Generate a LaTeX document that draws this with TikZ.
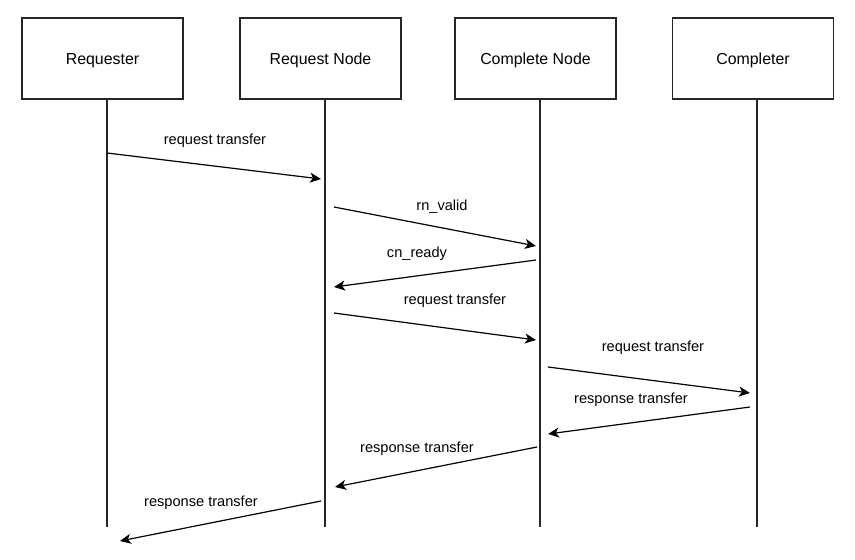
\documentclass[tikz,border=0pt]{standalone}
\usepackage{fontspec}
\setmainfont{Liberation Sans}
\usetikzlibrary{arrows.meta}
\begin{document}
\begin{tikzpicture}[x=1pt,y=-1pt,
  actor/.style={draw=black!85,line width=1.2pt,minimum width=161pt,minimum height=81pt,inner sep=0pt,text height=11.4pt,text depth=0pt,font=\fontsize{15.9}{18}\selectfont},
  life/.style={draw=black!85,line width=1.2pt},
  msg/.style={draw=black,line width=1.2pt,-{Stealth[length=11pt,width=10pt,inset=3pt]}},
  lbl/.style={inner sep=0pt,font=\fontsize{14.6}{17}\selectfont}]
\useasboundingbox (0,0) rectangle (855,560);
\fill[white] (0,0) rectangle (855,560);
% actors
\node[actor] (A) at (102.5,58.5) {Requester};
\node[actor] (B) at (320.5,58.5) {Request Node};
\node[actor] (C) at (535.5,58.5) {Complete Node};
\node[actor] (D) at (753,58.5) {Completer};
% lifelines
\coordinate (Aend) at (107,527);
\coordinate (Bend) at (325,527);
\coordinate (Cend) at (540,527);
\coordinate (Dend) at (757,527);
\draw[life] (A.south -| Aend) -- (Aend);
\draw[life] (B.south -| Bend) -- (Bend);
\draw[life] (C.south -| Cend) -- (Cend);
\draw[life] (D.south -| Dend) -- (Dend);
% message end points
\coordinate (m1s) at (107,153);  \coordinate (m1e) at (321,179);
\coordinate (m2s) at (334,207);  \coordinate (m2e) at (536,246);
\coordinate (m3s) at (536,260);  \coordinate (m3e) at (334,287);
\coordinate (m4s) at (334,313);  \coordinate (m4e) at (536,340);
\coordinate (m5s) at (548,367);  \coordinate (m5e) at (750,393);
\coordinate (m6s) at (750,407);  \coordinate (m6e) at (548,434);
\coordinate (m7s) at (537,447);  \coordinate (m7e) at (335,487);
\coordinate (m8s) at (321,501);  \coordinate (m8e) at (120,541);
\draw[msg] (m1s) -- (m1e);
\draw[msg] (m2s) -- (m2e);
\draw[msg] (m3s) -- (m3e);
\draw[msg] (m4s) -- (m4e);
\draw[msg] (m5s) -- (m5e);
\draw[msg] (m6s) -- (m6e);
\draw[msg] (m7s) -- (m7e);
\draw[msg] (m8s) -- (m8e);
% labels
\node[lbl] (l1) at (215,141) {request transfer};
\node[lbl] (l2) at (442,207) {rn\_valid};
\node[lbl] (l3) at (417,253.5) {cn\_ready};
\node[lbl] (l4) at (455,300.5) {request transfer};
\node[lbl] (l5) at (653,347.5) {request transfer};
\node[lbl] (l6) at (631,400) {response transfer};
\node[lbl] (l7) at (417,448.5) {response transfer};
\node[lbl] (l8) at (201,503) {response transfer};
\end{tikzpicture}
\end{document}
